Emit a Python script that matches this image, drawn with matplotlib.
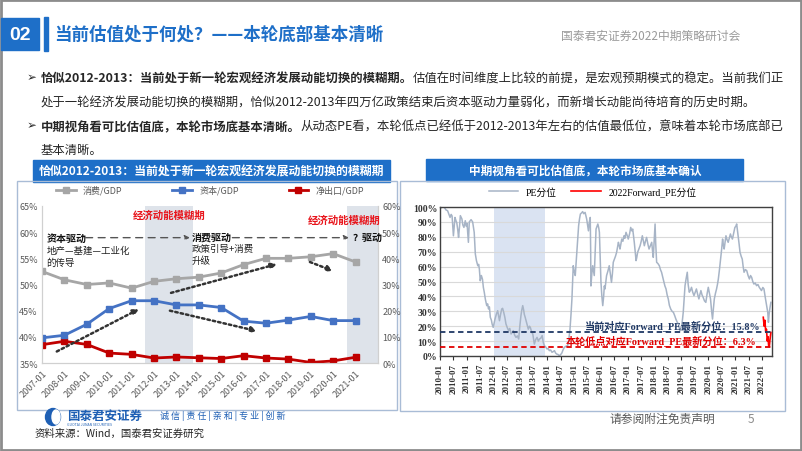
import matplotlib
matplotlib.use('Agg')
import matplotlib.pyplot as plt
from matplotlib.patches import Rectangle, Ellipse

plt.rcParams['font.family'] = ['Noto Sans CJK SC', 'DejaVu Sans']
plt.rcParams['axes.unicode_minus'] = False

# ---- 左图数据：支出法GDP结构 ----
years = ['2007-01', '2008-01', '2009-01', '2010-01', '2011-01', '2012-01', '2013-01', '2014-01',
         '2015-01', '2016-01', '2017-01', '2018-01', '2019-01', '2020-01', '2021-01']
consume = [52.5, 50.9, 50.0, 50.3, 49.3, 50.6, 51.1, 51.4, 52.2, 53.8, 55.0, 55.0, 55.3, 55.9, 54.3]
capital = [39.8, 40.3, 42.4, 45.4, 46.9, 46.9, 46.1, 46.1, 45.6, 43.0, 42.6, 43.2, 43.9, 43.1, 43.1]
net_export = [7.0, 8.3, 7.1, 3.8, 3.3, 1.9, 2.3, 2.0, 1.7, 2.8, 1.9, 1.5, 0.2, 0.8, 2.2]

# ---- 右图数据：PE分位（横轴为自2010-01起的月数） ----
pe_month = [0, 1, 1.9, 2.7, 3.4, 4.0, 4.5, 5.0, 5.4, 6.0, 6.7, 7.1, 7.5, 8.0, 8.3, 8.8, 9.1, 9.8, 10.2,
            10.7, 11.3, 11.8, 12.1, 12.7, 13.1, 13.9, 14.6, 15.0, 15.3, 15.8, 16.3, 16.9, 17.3, 17.6,
            18.0, 18.5, 19.0, 19.4, 19.8, 20.3, 20.9, 21.3, 21.7, 22.1, 22.5, 23.0, 23.3, 23.8, 24.2,
            24.6, 25.2, 25.8, 26.2, 26.6, 27.1, 27.6, 28.0, 28.5, 29.0, 29.5, 30.1, 30.7, 31.2, 31.8,
            32.3, 32.8, 33.4, 34.0, 34.6, 35.2, 35.7, 36.2, 36.6, 37.0, 37.4, 37.7, 38.1, 38.5, 39.0,
            39.5, 40.0, 40.4, 41.0, 41.5, 41.9, 42.2, 42.8, 43.4, 44.0, 44.5, 45.1, 45.7, 46.2, 46.7,
            47.3, 47.9, 48.4, 48.9, 49.5, 50.1, 50.7, 51.2, 51.7, 52.2, 52.8, 53.4, 54.0, 54.5, 55.0,
            55.6, 56.3, 57.1, 57.6, 58.1, 58.6, 59.0, 59.3, 59.6, 60.0, 60.5, 60.9, 61.3, 61.7, 62.0,
            62.4, 62.8, 63.3, 63.8, 64.3, 64.9, 65.3, 65.6, 66.0, 66.4, 66.8, 67.2, 67.4, 67.5, 67.9,
            68.3, 68.7, 69.0, 69.4, 69.8, 70.2, 70.6, 71.0, 71.3, 71.7, 72.0, 72.4, 72.8, 73.2, 73.5,
            73.8, 74.2, 74.5, 75.1, 75.7, 76.2, 76.7, 77.1, 77.5, 78.0, 78.5, 79.0, 79.4, 79.8, 80.2,
            80.5, 80.9, 81.3, 81.8, 82.3, 82.7, 83.2, 83.7, 84.2, 84.8, 85.3, 85.8, 86.2, 86.6, 86.9,
            87.3, 87.7, 88.0, 88.4, 89.0, 89.5, 90.0, 90.5, 91.0, 91.4, 91.9, 92.4, 93.0, 93.5, 94.1,
            94.7, 95.1, 95.4, 95.8, 96.2, 96.5, 96.9, 97.5, 98.1, 98.6, 99.1, 99.6, 100.2, 100.6, 101.1,
            101.6, 102.1, 102.6, 103.2, 103.8, 104.4, 105.0, 105.5, 106.0, 106.6, 107.0, 107.3, 107.7,
            108.1, 108.5, 108.8, 109.2, 109.6, 110.1, 110.6, 111.0, 111.5, 112.0, 112.5, 113.0, 113.6,
            114.2, 114.7, 115.3, 115.8, 116.2, 116.7, 117.2, 117.7, 118.3, 118.9, 119.5, 120.0, 120.5,
            121.0, 121.5, 121.9, 122.3, 122.7, 123.2, 123.7, 124.1, 124.5, 125.0, 125.5, 126.0, 126.4,
            126.8, 127.1, 127.5, 127.9, 128.4, 128.9, 129.4, 129.9, 130.3, 130.8, 131.3, 131.9, 132.3,
            132.7, 133.0, 133.4, 133.8, 134.2, 134.7, 135.2, 135.6, 136.0, 136.6, 137.2, 137.8, 138.4,
            138.9, 139.4, 139.9, 140.4, 141.0, 141.6, 142.2, 142.8, 143.3, 143.8, 144.4, 144.9, 145.3,
            145.6, 146.1, 146.6, 146.9, 147.2, 147.5, 148.0]
pe_value = [99, 100, 99.8, 98, 97.5, 95, 93, 95, 94, 80.7, 93, 91, 89.5, 84, 79.6, 88, 94.2, 92, 88,
            86.3, 90.8, 87, 89, 76.3, 90, 91.5, 90, 86, 83, 68.5, 64, 60.6, 61.5, 58.4,
            50.5, 54, 51.5, 46, 42.8, 38, 33.8, 35, 31.6, 33, 26, 24, 21.5, 19.2, 22,
            24.8, 28, 30.4, 27, 23.7, 28, 31.5, 32, 29.3, 26, 21.5, 19, 17, 18.5, 14.8,
            16, 17, 14, 12.5, 13.5, 11.4, 20, 27, 31, 33.8, 31, 28, 26, 23.7, 21,
            18, 20, 19.2, 16, 14.8, 11, 8, 11, 12.5, 10, 11.4, 12, 13.7, 9, 6.9,
            6, 4.7, 5, 3.6, 4, 2.5, 3, 3.6, 2, 1.3, 1, 0.2, 1, 2, 4,
            5.8, 6.5, 7, 11, 17, 28, 38, 50, 60.6, 57, 54, 63, 71.8, 80, 87.4,
            92, 95.3, 96, 96.9, 95.5, 96.4, 94, 92, 88, 84, 90, 93, 70, 47, 55,
            60.6, 57, 54, 70, 85.2, 87, 88.6, 86, 83, 65, 49.4, 40, 33.8, 40, 47,
            45, 50, 53.9, 57, 60.6, 55, 49.4, 55, 62.9, 65, 67, 69.6, 73, 76.3, 74,
            71.8, 75, 78.5, 77, 80.7, 79, 83, 81, 78.5, 82, 86.3, 84, 85.2, 80, 76.3,
            70, 64, 66, 69.6, 72, 74, 77, 80.7, 77, 74, 77, 79.6, 75, 71.8, 74,
            76.3, 70, 66.2, 78, 88.6, 75, 62.9, 62, 60.6, 58, 56.2, 53, 49.4, 47, 45,
            41, 38.3, 34, 31.5, 30, 29.3, 27, 24.8, 23, 21.5, 19, 17, 18.5,
            20.3, 25, 29.3, 38, 47.2, 52, 56.2, 48, 42.8, 44, 46.1, 43, 40.5,
            43, 45, 41, 38.3, 41, 43.9, 41, 39.4, 37, 36, 42, 46.1, 42,
            38.3, 30, 24.8, 32, 38.3, 42, 45, 48, 51.7, 58, 65, 72, 78.5,
            74, 71.8, 76, 80.7, 78, 76.3, 79, 81.9, 80, 78.5, 82, 86.3, 87,
            88.6, 85, 80.7, 75, 69.6, 67, 65, 60, 56.2, 58, 57.3, 54, 51.7,
            54, 52.8, 50, 48.3, 49, 47.2, 48, 46.1, 45, 43.9, 46, 45, 41,
            38.3, 33.8, 29.3, 22.6, 28, 31.5, 36]
fwd_month = [144.6, 145.0, 145.3, 145.7, 146.0, 146.4, 146.7, 147.0, 147.3, 147.6, 148.0]
fwd_value = [26, 20, 24, 16, 18, 10, 13, 7, 6.3, 11, 15.8]
pe_ticks = list(range(0, 145, 6))
pe_tick_labels = [f'{2010 + m // 12}-{m % 12 + 1:02d}' for m in pe_ticks]
current_pct = 15.8
low_pct = 6.3

W, H = 802, 452


def fx(x):
    return x / W


def fy(y):
    return 1 - y / H


def box(x0, y0, x1, y1):
    return [fx(x0), fy(y1), fx(x1) - fx(x0), fy(y0) - fy(y1)]


fig = plt.figure(figsize=(8.02, 4.52), dpi=100)
fig.patch.set_facecolor('white')

bg = fig.add_axes([0, 0, 1, 1])
bg.set_xlim(0, W)
bg.set_ylim(H, 0)
bg.axis('off')

# 边框
bg.add_patch(Rectangle((1, 1), W - 2, H - 2, fill=False, ec='#8c8c8c', lw=2))

# ---- 页眉 ----
blue = '#1E6FC8'
bg.add_patch(Rectangle((1, 19), 38, 32, color=blue))
bg.text(20, 35, '02', color='white', fontsize=14, weight='bold', ha='center', va='center',
        family=['Liberation Sans', 'DejaVu Sans'])
bg.add_patch(Rectangle((44, 18), 3.5, 34, color=blue))
bg.text(54, 35, '当前估值处于何处？——本轮底部基本清晰', color=blue, fontsize=12.6, weight='bold',
        va='center')
bg.text(740, 36, '国泰君安证券2022中期策略研讨会', color='#9a9a9a', fontsize=8.5, ha='right',
        va='center')


# ---- 正文 ----
def rich_line(x, y, parts, size=8.9):
    prev = None
    for s, w in parts:
        if prev is None:
            prev = bg.text(x, y, s, fontsize=size, weight=w, color='#262626', va='bottom')
        else:
            prev = bg.annotate(s, xy=(1, 0), xycoords=prev, fontsize=size, weight=w,
                               color='#262626', va='bottom', ha='left')
    return prev


bg.text(27, 78, '➢', fontsize=8.5, color='#262626', va='center', family=['DejaVu Sans'])
rich_line(41, 86, [('恰似2012-2013：当前处于新一轮宏观经济发展动能切换的模糊期。', 'bold'),
                   ('估值在时间维度上比较的前提，是宏观预期模式的稳定。当前我们正', 'normal')])
rich_line(41, 110, [('处于一轮经济发展动能切换的模糊期，恰似2012-2013年四万亿政策结束后资本驱动力量弱化，'
                     '而新增长动能尚待培育的历史时期。', 'normal')])
bg.text(27, 126, '➢', fontsize=8.5, color='#262626', va='center', family=['DejaVu Sans'])
rich_line(41, 134, [('中期视角看可比估值底，本轮市场底基本清晰。', 'bold'),
                    ('从动态PE看，本轮低点已经低于2012-2013年左右的估值最低位，意味着本轮市场底部已',
                     'normal')])
rich_line(41, 157, [('基本清晰。', 'normal')])

# ---- 图框与标题条 ----
bg.add_patch(Rectangle((33, 161), 357, 22, color=blue))
bg.text(211, 172, '恰似2012-2013：当前处于新一轮宏观经济发展动能切换的模糊期', color='white',
        fontsize=8.6, weight='bold', ha='center', va='center')
bg.add_patch(Rectangle((17, 182), 380, 229, fill=False, ec='#a9bcd6', lw=1))

bg.add_patch(Rectangle((426, 160), 317, 22, color=blue))
bg.text(585, 171, '中期视角看可比估值底，本轮市场底基本确认', color='white',
        fontsize=8.4, weight='bold', ha='center', va='center')
bg.add_patch(Rectangle((400, 182), 385, 230, fill=False, ec='#a9bcd6', lw=1))

# ---- 左图 ----
c_grey, c_blue, c_red = '#A6A6A6', '#4472C4', '#C00000'
ax = fig.add_axes(box(42, 207, 378, 364))
ax2 = ax.twinx()
ax.set_zorder(ax2.get_zorder() + 1)
ax.patch.set_visible(False)
xs = list(range(len(years)))
ax2.axvspan(4.58, 6.73, color='#DEE3EA', lw=0, zorder=0)
ax2.axvspan(13.6, 15.0, color='#DEE3EA', lw=0, zorder=0)
l1, = ax.plot(xs, consume, color=c_grey, lw=2, marker='s', ms=4, label='消费/GDP')
l2, = ax.plot(xs, capital, color=c_blue, lw=2, marker='s', ms=4, label='资本/GDP')
l3, = ax2.plot(xs, net_export, color=c_red, lw=2, marker='s', ms=4, label='净出口/GDP', zorder=3)
ax.set_xlim(0, 15)
ax.set_ylim(35, 65)
ax2.set_ylim(0, 60)
ax.set_yticks(range(35, 66, 5))
ax.set_yticklabels([f'{v}%' for v in range(35, 66, 5)])
ax2.set_yticks(range(0, 61, 10))
ax2.set_yticklabels([f'{v}%' for v in range(0, 61, 10)])
ax.set_xticks(xs)
ax.set_xticklabels(years, rotation=45, ha='right', rotation_mode='anchor')
for a in (ax, ax2):
    for s in a.spines.values():
        s.set_color('#d0d0d0')
    a.spines['top'].set_visible(False)
    a.tick_params(labelsize=6.5, colors='#595959', length=0, pad=3)
ax.tick_params(axis='x', pad=4)
ax.legend(handles=[l1, l2, l3], loc='lower center', bbox_to_anchor=(0.5, 1.02), ncol=3,
          frameon=False, fontsize=6.5, handlelength=2.2, columnspacing=5.5,
          labelcolor='#595959')

red_txt = '#E8141B'
ax.text(5.67, 63.4, '经济动能模糊期', color=red_txt, fontsize=7.5, weight='bold', ha='center',
        va='center')
ax.text(13.5, 62.4, '经济动能模糊期', color=red_txt, fontsize=7.5, weight='bold', ha='center',
        va='center')
ax.text(0.2, 58.9, '资本驱动', fontsize=7.2, weight='bold', color='#111111', va='center')
ax.text(6.7, 59.2, '消费驱动', fontsize=7.2, weight='bold', color='#111111', va='center')
ax.text(13.85, 59.1, '？驱动', fontsize=7.2, weight='bold', color='#111111', va='center')
ax.text(0.2, 56.6, '地产—基建—工业化', fontsize=6.8, color='#222222', va='center')
ax.text(0.2, 54.2, '的传导', fontsize=6.8, color='#222222', va='center')
ax.text(6.7, 56.9, '政策引导+消费', fontsize=6.8, color='#222222', va='center')
ax.text(6.7, 54.6, '升级', fontsize=6.8, color='#222222', va='center')

dash = dict(arrowstyle='-|>', color='#555555', lw=1, linestyle=(0, (5, 4)), mutation_scale=7,
            shrinkA=0, shrinkB=0)
ax.annotate('', xy=(6.6, 58.95), xytext=(1.95, 58.95), arrowprops=dash)
ax.annotate('', xy=(13.7, 58.95), xytext=(8.5, 58.95), arrowprops=dash)

dot = dict(arrowstyle='-|>', color='#333333', lw=1.8, linestyle=(0, (1, 1.2)), mutation_scale=8,
           shrinkA=0, shrinkB=0)
ax.annotate('', xy=(4.33, 45.3), xytext=(0.66, 37.2), arrowprops=dot)
ax.annotate('', xy=(10.49, 53.9), xytext=(5.76, 48.4), arrowprops=dot)
ax.annotate('', xy=(9.6, 41.1), xytext=(5.71, 45.0), arrowprops=dot)
ax.annotate('', xy=(12.99, 52.6), xytext=(11.96, 54.3), arrowprops=dot)

# ---- 右图 ----
serif = ['Liberation Serif', 'Noto Sans CJK SC']
bx = fig.add_axes(box(440, 208, 772, 357))
bx.axvspan(24, 47, color='#DAE3F2', lw=0, zorder=0)
p1, = bx.plot(pe_month, pe_value, color='#A7B4C6', lw=1.1, label='PE分位', zorder=2)
p2, = bx.plot(fwd_month, fwd_value, color='#FF0000', lw=1.2, label='2022Forward_PE分位', zorder=3)
bx.axhline(current_pct, color='#1F3864', lw=1.3, ls=(0, (3, 2)), zorder=4)
bx.axhline(low_pct, color='#E00000', lw=1.3, ls=(0, (3, 2)), zorder=4)
bx.set_xlim(0, 148.5)
bx.set_ylim(0, 100)
bx.set_yticks(range(0, 101, 10))
bx.set_yticklabels([f'{v}%' for v in range(0, 101, 10)], family=serif, fontsize=7, weight='bold')
bx.set_xticks(pe_ticks)
bx.set_xticklabels(pe_tick_labels, rotation=90, family=serif, fontsize=6.5, weight='bold')
bx.grid(axis='y', color='#d9d9d9', lw=0.8)
bx.set_axisbelow(True)
for s in bx.spines.values():
    s.set_color('#404040')
    s.set_linewidth(1)
bx.tick_params(axis='y', length=0, pad=2, colors='#333333')
bx.tick_params(axis='x', length=3, pad=2, colors='#333333', direction='out')
bx.legend(handles=[p1, p2], loc='lower center', bbox_to_anchor=(0.46, 1.01), ncol=2,
          frameon=False, handlelength=3, columnspacing=1.5,
          prop={'family': serif, 'size': 7})
bx.text(143.5, current_pct + 1.5, f'当前对应Forward_PE最新分位：{current_pct}%', color='#1F3864',
        fontsize=7.3, weight='bold', ha='right', va='bottom', family=serif, zorder=5)
bx.text(141.5, low_pct + 1.2, f'本轮低点对应Forward_PE最新分位：{low_pct}%', color='#E00000',
        fontsize=7.3, weight='bold', ha='right', va='bottom', family=serif, zorder=5)

# ---- 页脚 ----
bg.add_patch(Ellipse((53, 418), 15, 17, color='#1E5FB4'))
bg.add_patch(Ellipse((56, 418), 8, 14, color='white'))
bg.text(67, 416, '国泰君安证券', color='#1E5FB4', fontsize=9, weight='bold', va='center')
bg.text(67, 425, 'GUOTAI JUNAN SECURITIES', color='#1E5FB4', fontsize=2.5, va='center')
bg.text(160, 416, '诚 信 | 责 任 | 亲 和 | 专 业 | 创 新', color='#1E5FB4', fontsize=6.5,
        va='center')
bg.text(35, 434, '资料来源：Wind，国泰君安证券研究', color='#262626', fontsize=7.5, va='center')
bg.text(610, 419, '请参阅附注免责声明', color='#595959', fontsize=8.5, va='center')
bg.text(748, 420, '5', color='#8c8c8c', fontsize=8.5, va='center')

fig.savefig('out.png', dpi=100)
